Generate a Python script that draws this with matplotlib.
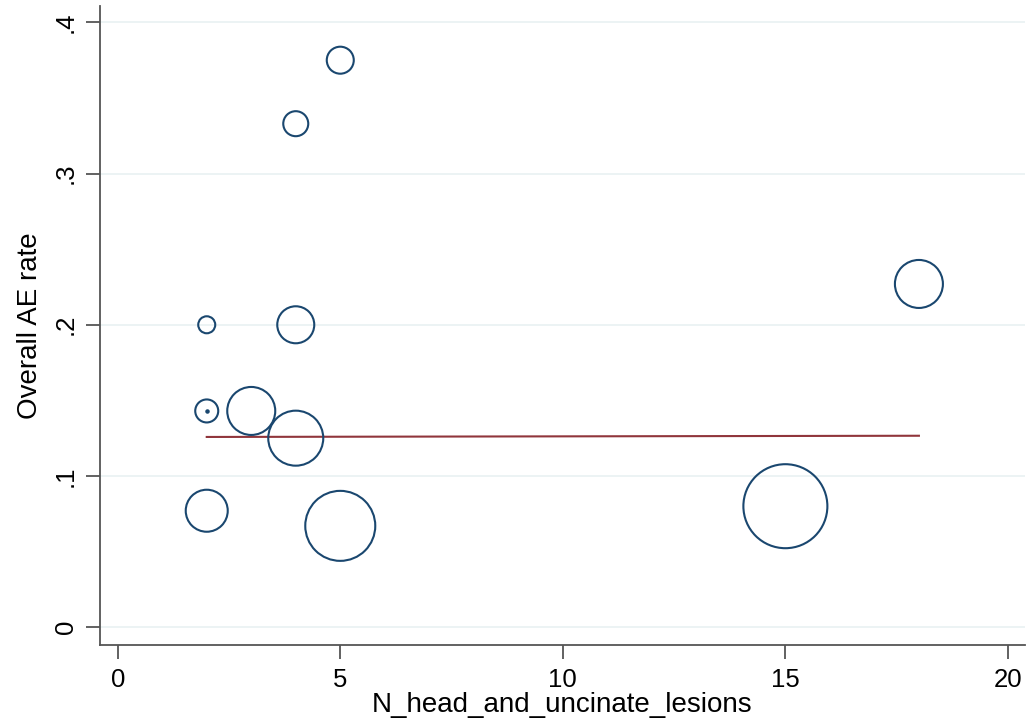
import matplotlib.pyplot as plt
import numpy as np

# lesion counts, AE rate and study weight (bubble area)
n_lesions = [5, 4, 2, 4, 2, 3, 4, 2, 5, 15, 18]
ae_rate = [0.375, 0.333, 0.200, 0.200, 0.143, 0.143, 0.125, 0.077, 0.067, 0.080, 0.227]
weight = [27, 25, 17, 37, 23, 48, 55, 42, 70, 84, 48]

# tiny study sitting inside the (2, .143) bubble
dot_x = [2]
dot_y = [0.143]

# fitted line
fit_x = [2, 18]
fit_y = [0.1258, 0.1266]

yticks = [0, 0.1, 0.2, 0.3, 0.4]
ylabels = ['0', '.1', '.2', '.3', '.4']
xticks = [0, 5, 10, 15, 20]

plt.rcParams['font.family'] = ['Liberation Sans', 'DejaVu Sans']

navy = '#1a476f'
maroon = '#90353b'

fig = plt.figure(figsize=(10.3, 7.21), dpi=100)
ax = fig.add_axes([0.097, 0.105, 0.898, 0.887])

# weight ~ diameter in px -> area in pt^2
sizes = [(w * 0.72) ** 2 for w in weight]
ax.scatter(n_lesions, ae_rate, s=sizes, facecolors='none', edgecolors=navy, linewidths=1.5, zorder=3)
ax.scatter(dot_x, dot_y, s=5, color=navy, zorder=3)
ax.plot(fit_x, fit_y, color=maroon, lw=1.5, zorder=2)

ax.set_xlim(-0.4, 20.38)
ax.set_ylim(-0.012, 0.411)
ax.set_xticks(xticks)
ax.set_yticks(yticks)
ax.set_yticklabels(ylabels, rotation=90, va='center')
ax.grid(axis='y', color='#eaf2f3', lw=1.3, zorder=0)
ax.set_axisbelow(True)

for s in ['top', 'right']:
    ax.spines[s].set_visible(False)
for s in ['left', 'bottom']:
    ax.spines[s].set_color('#555555')
    ax.spines[s].set_linewidth(1.3)
ax.tick_params(length=10, width=1.3, color='#555555', labelsize=18.5, pad=6)

ax.set_xlabel('N_head_and_uncinate_lesions', fontsize=20, labelpad=0)
ax.set_ylabel('Overall AE rate', fontsize=20, labelpad=8)

fig.savefig('out.png', dpi=100)
